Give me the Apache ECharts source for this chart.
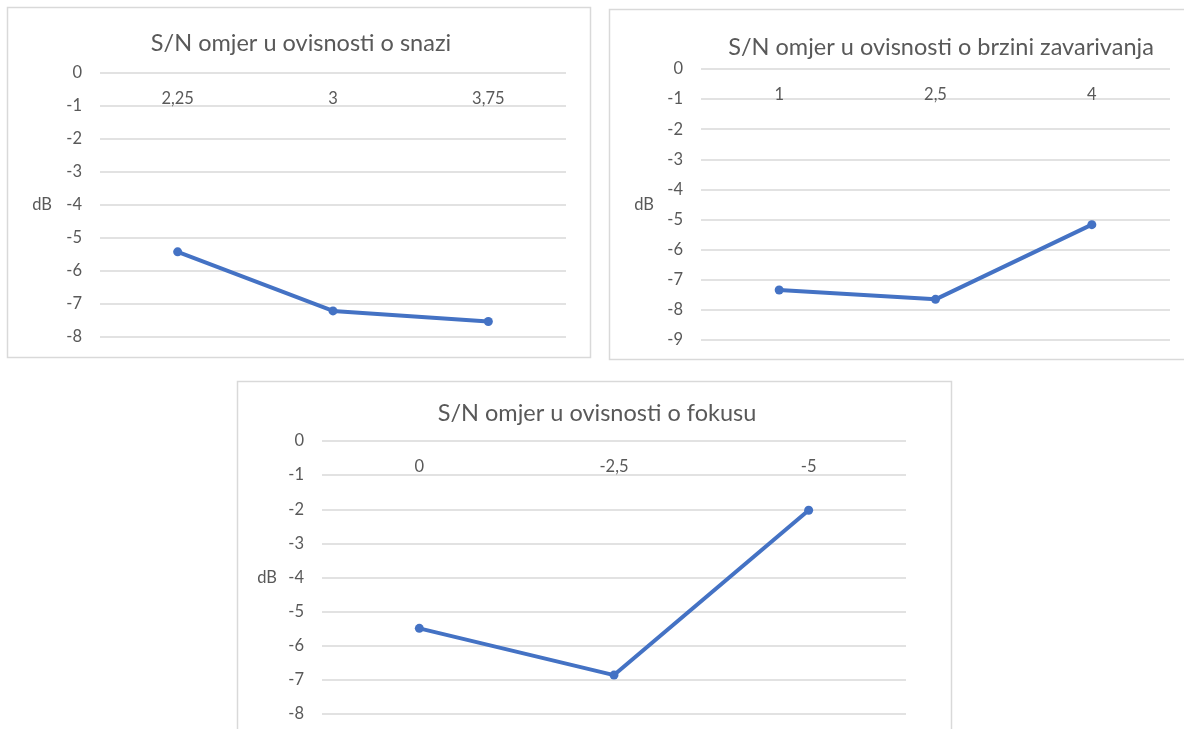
<!DOCTYPE html>
<html>
<head>
<meta charset="utf-8">
<script src="https://cdn.jsdelivr.net/npm/echarts@6/dist/echarts.min.js"></script>
<style>
  html, body { margin: 0; padding: 0; background: #ffffff; }
  #main { width: 1184px; height: 729px; }
</style>
</head>
<body>
<div id="main"></div>
<script>
// ---- Data ----
const titles = [
  'S/N omjer u ovisnosti o snazi',
  'S/N omjer u ovisnosti o brzini zavarivanja',
  'S/N omjer u ovisnosti o fokusu'
];
const snagaCategories = ['2,25', '3', '3,75'];
const snagaValues = [-5.42, -7.21, -7.53];
const brzinaCategories = ['1', '2,5', '4'];
const brzinaValues = [-7.34, -7.65, -5.17];
const fokusCategories = ['0', '-2,5', '-5'];
const fokusValues = [-5.49, -6.86, -2.03];
const yMins = [-8, -9, -8];
const yName = 'dB';

// ---- Layout / style ----
const W = 1184, H = 729;
const FONT = 'Lato, "Open Sans", sans-serif';
const TEXT = '#595959';
const GRID = '#d9d9d9';
const LINE = '#4472C4';

const grids = [
  { left: 100, top: 73, width: 466, height: 264 },
  { left: 701, top: 69, width: 469, height: 271 },
  { left: 322, top: 441, width: 584, height: 273 }
];
const boxes = [
  { x: 7, y: 7, w: 583, h: 350 },
  { x: 609, y: 9, w: 580, h: 350 },
  { x: 237, y: 381, w: 714, h: 370 }
];
const titlePos = [
  { x: 296, y: 38 },
  { x: 936, y: 42 },
  { x: 592, y: 408 }
];
const nameGaps = [48, 47, 45];

const cats = [snagaCategories, brzinaCategories, fokusCategories];
const vals = [snagaValues, brzinaValues, fokusValues];

const option = {
  backgroundColor: '#ffffff',
  animation: false,
  textStyle: { fontFamily: FONT },
  title: titles.map((t, i) => ({
    text: t,
    left: titlePos[i].x,
    top: titlePos[i].y,
    textAlign: 'center',
    textVerticalAlign: 'middle',
    textStyle: { color: TEXT, fontSize: 23.5, fontWeight: 'normal', fontFamily: FONT }
  })),
  graphic: boxes.map(b => ({
    type: 'rect',
    shape: { x: b.x + 0.5, y: b.y + 0.5, width: b.w, height: b.h },
    style: { fill: 'none', stroke: GRID, lineWidth: 1.5 },
    silent: true,
    z: -1
  })),
  grid: grids.map(g => ({ left: g.left, top: g.top, width: g.width, height: g.height, containLabel: false })),
  xAxis: cats.map((c, i) => ({
    type: 'category',
    gridIndex: i,
    data: c,
    position: 'top',
    boundaryGap: true,
    axisLine: { show: false },
    axisTick: { show: false },
    splitLine: { show: false },
    axisLabel: { inside: true, margin: 17, color: TEXT, fontSize: 16.5, fontFamily: FONT }
  })),
  yAxis: yMins.map((m, i) => ({
    type: 'value',
    gridIndex: i,
    min: m,
    max: 0,
    interval: 1,
    name: yName,
    nameLocation: 'middle',
    nameRotate: 0,
    nameGap: nameGaps[i],
    nameTextStyle: { color: TEXT, fontSize: 16.5, fontFamily: FONT },
    axisLine: { show: false },
    axisTick: { show: false },
    axisLabel: { margin: 18, color: TEXT, fontSize: 16.5, fontFamily: FONT },
    splitLine: { show: true, lineStyle: { color: GRID, width: 1.5 } }
  })),
  series: vals.map((v, i) => ({
    type: 'line',
    xAxisIndex: i,
    yAxisIndex: i,
    data: v,
    symbol: 'circle',
    symbolSize: 9,
    lineStyle: { color: LINE, width: 4 },
    itemStyle: { color: LINE },
    silent: true
  }))
};

const chart = echarts.init(document.getElementById('main'), null, { width: W, height: H, renderer: 'canvas' });
chart.setOption(option);
</script>
</body>
</html>
